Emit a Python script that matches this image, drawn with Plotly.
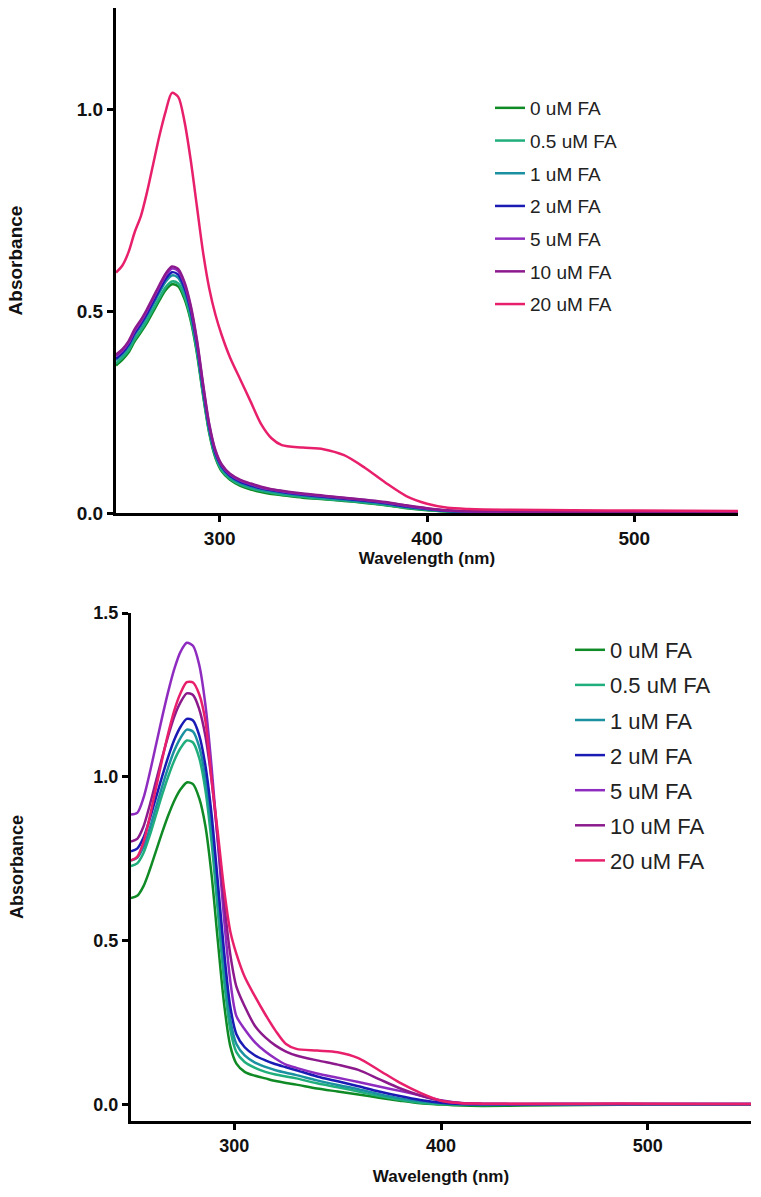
import plotly.graph_objects as go

# ---------------- data ----------------
wavelength = [250, 253, 256, 259, 262, 265, 268, 271, 274, 277, 280, 283, 286, 289,
              292, 295, 298, 301, 305, 310, 315, 320, 325, 330, 340, 350, 360, 370,
              380, 390, 400, 410, 420, 440, 470, 500, 550]

series_names = ["0 uM FA", "0.5 uM FA", "1 uM FA", "2 uM FA", "5 uM FA", "10 uM FA", "20 uM FA"]
series_colors = ["#0f8a24", "#1fae7c", "#1a90a0", "#1a1ab4", "#8f2cc0", "#8c1a8c", "#e8206c"]

# Panel A (top)
top_0 = [0.365, 0.379, 0.397, 0.425, 0.447, 0.471, 0.499, 0.527, 0.552, 0.566, 0.561, 0.530, 0.477, 0.396,
         0.291, 0.197, 0.136, 0.103, 0.082, 0.067, 0.058, 0.052, 0.047, 0.044, 0.038, 0.034, 0.030, 0.025,
         0.019, 0.012, 0.007, 0.004, 0.002, 0.002, 0.002, 0.002, 0.002]
top_05 = [0.370, 0.384, 0.402, 0.430, 0.452, 0.477, 0.505, 0.533, 0.559, 0.573, 0.568, 0.537, 0.483, 0.401,
          0.295, 0.200, 0.139, 0.106, 0.085, 0.070, 0.061, 0.055, 0.050, 0.046, 0.040, 0.035, 0.031, 0.026,
          0.020, 0.013, 0.008, 0.004, 0.003, 0.002, 0.002, 0.002, 0.002]
top_1 = [0.378, 0.392, 0.411, 0.440, 0.462, 0.488, 0.517, 0.546, 0.573, 0.588, 0.582, 0.550, 0.495, 0.411,
         0.303, 0.206, 0.144, 0.111, 0.089, 0.074, 0.065, 0.058, 0.053, 0.049, 0.043, 0.038, 0.033, 0.028,
         0.022, 0.015, 0.009, 0.005, 0.003, 0.002, 0.002, 0.002, 0.002]
top_2 = [0.382, 0.396, 0.416, 0.445, 0.468, 0.494, 0.523, 0.553, 0.580, 0.596, 0.590, 0.558, 0.502, 0.418,
         0.309, 0.211, 0.148, 0.115, 0.092, 0.077, 0.068, 0.061, 0.056, 0.052, 0.045, 0.040, 0.035, 0.030,
         0.024, 0.016, 0.010, 0.005, 0.004, 0.003, 0.002, 0.002, 0.002]
top_5 = [0.388, 0.401, 0.421, 0.451, 0.474, 0.501, 0.531, 0.561, 0.588, 0.605, 0.599, 0.567, 0.510, 0.425,
         0.315, 0.216, 0.152, 0.118, 0.095, 0.080, 0.071, 0.063, 0.058, 0.054, 0.047, 0.042, 0.037, 0.032,
         0.026, 0.018, 0.011, 0.006, 0.004, 0.003, 0.003, 0.003, 0.003]
top_10 = [0.392, 0.405, 0.425, 0.455, 0.478, 0.505, 0.535, 0.565, 0.593, 0.610, 0.604, 0.572, 0.515, 0.430,
          0.320, 0.220, 0.155, 0.120, 0.097, 0.082, 0.073, 0.065, 0.059, 0.055, 0.048, 0.043, 0.038, 0.033,
          0.027, 0.019, 0.012, 0.007, 0.005, 0.004, 0.003, 0.003, 0.003]
top_20 = [0.595, 0.612, 0.645, 0.695, 0.735, 0.795, 0.865, 0.935, 0.995, 1.040, 1.030, 0.970, 0.875, 0.760,
          0.645, 0.555, 0.490, 0.440, 0.385, 0.330, 0.275, 0.220, 0.185, 0.168, 0.162, 0.158, 0.143, 0.112,
          0.075, 0.042, 0.023, 0.013, 0.010, 0.008, 0.007, 0.006, 0.005]

# Panel B (bottom)
bot_0 = [0.630, 0.637, 0.666, 0.715, 0.772, 0.829, 0.882, 0.928, 0.962, 0.983, 0.978, 0.935, 0.850, 0.700,
         0.500, 0.310, 0.180, 0.125, 0.100, 0.088, 0.080, 0.072, 0.066, 0.061, 0.049, 0.040, 0.031, 0.021,
         0.012, 0.004, 0.000, -0.003, -0.004, -0.003, -0.001, 0.000, 0.000]
bot_05 = [0.728, 0.736, 0.767, 0.820, 0.882, 0.944, 1.001, 1.051, 1.088, 1.111, 1.105, 1.058, 0.960, 0.800,
          0.590, 0.380, 0.230, 0.160, 0.130, 0.112, 0.100, 0.092, 0.086, 0.080, 0.065, 0.053, 0.040, 0.026,
          0.015, 0.006, 0.002, 0.000, -0.001, 0.000, 0.000, 0.001, 0.001]
bot_1 = [0.745, 0.753, 0.785, 0.841, 0.905, 0.969, 1.029, 1.081, 1.119, 1.144, 1.138, 1.092, 0.995, 0.840,
         0.630, 0.420, 0.260, 0.185, 0.150, 0.128, 0.115, 0.105, 0.097, 0.090, 0.074, 0.060, 0.047, 0.032,
         0.019, 0.010, 0.004, 0.001, 0.000, 0.000, 0.001, 0.001, 0.001]
bot_2 = [0.773, 0.781, 0.814, 0.870, 0.935, 1.000, 1.061, 1.114, 1.153, 1.177, 1.172, 1.127, 1.035, 0.885,
         0.680, 0.470, 0.300, 0.215, 0.175, 0.150, 0.135, 0.123, 0.114, 0.105, 0.086, 0.071, 0.056, 0.040,
         0.026, 0.014, 0.006, 0.002, 0.001, 0.001, 0.002, 0.002, 0.002]
bot_5 = [0.885, 0.890, 0.935, 1.010, 1.095, 1.180, 1.260, 1.330, 1.382, 1.409, 1.400, 1.342, 1.220, 1.030,
         0.800, 0.570, 0.380, 0.270, 0.230, 0.190, 0.162, 0.140, 0.122, 0.112, 0.095, 0.082, 0.069, 0.055,
         0.042, 0.028, 0.013, 0.004, 0.002, 0.002, 0.002, 0.002, 0.002]
bot_10 = [0.803, 0.811, 0.848, 0.912, 0.985, 1.057, 1.125, 1.185, 1.228, 1.255, 1.250, 1.207, 1.125, 0.990,
          0.810, 0.620, 0.460, 0.360, 0.300, 0.240, 0.205, 0.180, 0.162, 0.150, 0.135, 0.122, 0.106, 0.078,
          0.050, 0.028, 0.012, 0.005, 0.003, 0.002, 0.002, 0.002, 0.002]
bot_20 = [0.745, 0.756, 0.800, 0.876, 0.963, 1.051, 1.133, 1.204, 1.256, 1.289, 1.288, 1.252, 1.170, 0.990,
          0.830, 0.660, 0.530, 0.460, 0.390, 0.330, 0.275, 0.225, 0.185, 0.170, 0.165, 0.160, 0.142, 0.105,
          0.067, 0.036, 0.012, 0.004, 0.003, 0.003, 0.003, 0.003, 0.002]

top_series = [top_0, top_05, top_1, top_2, top_5, top_10, top_20]
bot_series = [bot_0, bot_05, bot_1, bot_2, bot_5, bot_10, bot_20]

x_ticks = [300, 400, 500]
top_y_ticks = [0.0, 0.5, 1.0]
bot_y_ticks = [0.0, 0.5, 1.0, 1.5]

# ---------------- figure ----------------
W, H = 761, 1197
FONT = "Liberation Sans, Arial, sans-serif"

fig = go.Figure()

for name, color, ys in zip(series_names, series_colors, top_series):
    fig.add_trace(go.Scatter(
        x=wavelength, y=ys, name=name, mode="lines",
        line=dict(color=color, width=2.5, shape="spline", smoothing=0.8),
        xaxis="x", yaxis="y", legend="legend", legendgroup="a" + name,
    ))
for name, color, ys in zip(series_names, series_colors, bot_series):
    fig.add_trace(go.Scatter(
        x=wavelength, y=ys, name=name, mode="lines",
        line=dict(color=color, width=2.5, shape="spline", smoothing=0.8),
        xaxis="x2", yaxis="y2", legend="legend2", legendgroup="b" + name,
    ))

def px_x(p):
    return p / W

def px_y(p):
    return 1 - p / H

axis_common = dict(
    showline=True, linecolor="black", linewidth=3,
    ticks="outside", ticklen=6, tickwidth=3, tickcolor="black",
    showgrid=False, zeroline=False, automargin=False,
)

fig.update_layout(
    width=W, height=H,
    margin=dict(l=0, r=0, t=0, b=0, pad=0, autoexpand=False),
    paper_bgcolor="white", plot_bgcolor="white",
    showlegend=True,
    xaxis=dict(
        domain=[px_x(116), px_x(738)], range=[250, 550], anchor="y",
        tickvals=x_ticks,
        tickfont=dict(family=FONT, size=19, color="#111", weight="bold"),
        title=dict(text="Wavelength (nm)", font=dict(family=FONT, size=17, color="#111", weight="bold"),
                   standoff=4),
        **axis_common,
    ),
    yaxis=dict(
        domain=[px_y(513), px_y(8)], range=[0, 1.25], anchor="x",
        tickvals=top_y_ticks, tickformat=".1f",
        tickfont=dict(family=FONT, size=19, color="#111", weight="bold"),
        title=dict(text="Absorbance", font=dict(family=FONT, size=19, color="#111", weight="bold"),
                   standoff=50),
        **axis_common,
    ),
    xaxis2=dict(
        domain=[px_x(131), px_x(751)], range=[250, 550], anchor="y2",
        tickvals=x_ticks,
        tickfont=dict(family=FONT, size=18, color="#111", weight="bold"),
        title=dict(text="Wavelength (nm)", font=dict(family=FONT, size=17, color="#111", weight="bold"),
                   standoff=16),
        **axis_common,
    ),
    yaxis2=dict(
        domain=[px_y(1121), px_y(613)], range=[-0.05, 1.5], anchor="x2",
        tickvals=bot_y_ticks, tickformat=".1f",
        tickfont=dict(family=FONT, size=18, color="#111", weight="bold"),
        title=dict(text="Absorbance", font=dict(family=FONT, size=18, color="#111", weight="bold"),
                   standoff=66),
        **axis_common,
    ),
    legend=dict(
        x=px_x(490), y=px_y(89), xanchor="left", yanchor="top",
        font=dict(family=FONT, size=19, color="#222"),
        bgcolor="rgba(0,0,0,0)", tracegroupgap=5,
    ),
    legend2=dict(
        x=px_x(570), y=px_y(629), xanchor="left", yanchor="top",
        font=dict(family=FONT, size=22, color="#222"),
        bgcolor="rgba(0,0,0,0)", tracegroupgap=3.5,
    ),
)

fig.write_html(
    "out.html",
    config={"displayModeBar": False},
    post_script="document.body.style.margin='0';document.body.style.padding='0';document.body.style.overflow='hidden';",
)
